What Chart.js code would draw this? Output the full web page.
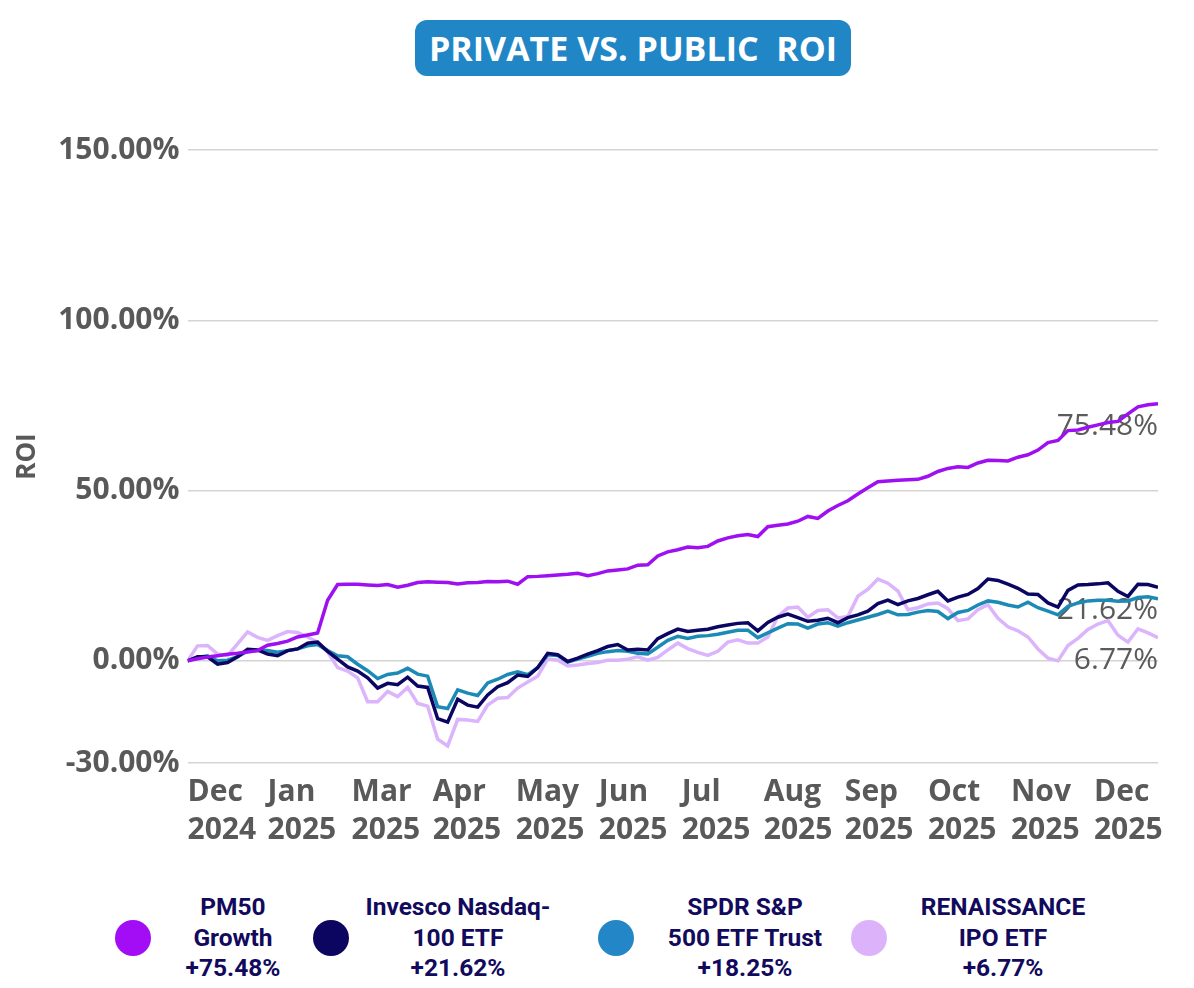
<!DOCTYPE html>
<html>
<head>
<meta charset="utf-8">
<title>Private vs. Public ROI</title>
<script src="https://cdn.jsdelivr.net/npm/chart.js@4.4.1/dist/chart.umd.min.js"></script>
<style>
  html, body { margin: 0; padding: 0; background: #fff; }
  body { width: 1194px; height: 988px; position: relative; overflow: hidden; font-family: "Open Sans", sans-serif; }
  #title {
    position: absolute; left: 415px; top: 20px; width: 436px; height: 56px;
    background: #2186c6; border-radius: 12px; color: #fff;
    font-weight: 700; font-size: 34px; line-height: 56px; text-align: center; white-space: pre;
  }
  #wrap { position: absolute; left: 0; top: 100px; width: 1194px; height: 760px; }
  .dot { position: absolute; top: 920px; width: 36px; height: 36px; border-radius: 50%; }
  .txt {
    position: absolute; top: 892px; width: 260px; text-align: center;
    font-family: Roboto, sans-serif; font-weight: 700; font-size: 24.5px; line-height: 30.5px; color: #120a5c;
  }
  .d0 { left: 115px; } .t0 { left: 103px; }
  .d1 { left: 313px; } .t1 { left: 328px; }
  .d2 { left: 598px; } .t2 { left: 615px; }
  .d3 { left: 851px; } .t3 { left: 873px; }
</style>
</head>
<body>
<div id="title">PRIVATE VS. PUBLIC  ROI</div>
<div id="wrap"><canvas id="roiChart"></canvas></div>
<div id="legend"></div>

<script>
// series names (legend lines) and colours
const seriesNames = [
    ['PM50', 'Growth'],
    ['Invesco Nasdaq-', '100 ETF'],
    ['SPDR S&P', '500 ETF Trust'],
    ['RENAISSANCE', 'IPO ETF']
];
const finalReturns = [75.48, 21.62, 18.25, 6.77];

// x axis tick labels and where they sit (in data point index units)
const xTickLabels = [
    ['Dec', '2024'], ['Jan', '2025'], ['Mar', '2025'], ['Apr', '2025'],
    ['May', '2025'], ['Jun', '2025'], ['Jul', '2025'], ['Aug', '2025'],
    ['Sep', '2025'], ['Oct', '2025'], ['Nov', '2025'], ['Dec', '2025']
];
const xTickPos = [0, 8, 16.4, 24.5, 32.8, 41.1, 49.4, 57.6, 65.7, 74, 82.3, 90.6];
const yTicks = [-30, 0, 50, 100, 150];

// ROI (%)
const pm50 = [
    0, 0.6, 1.1, 1.5, 1.9, 2.2, 2.6, 3.0, 4.6, 5.1,
    5.8, 7.0, 7.6, 8.2, 17.8, 22.4, 22.5, 22.5, 22.3, 22.1,
    22.4, 21.6, 22.2, 23.0, 23.2, 23.1, 23.0, 22.6, 22.9, 23.0,
    23.3, 23.2, 23.4, 22.5, 24.7, 24.8, 25.0, 25.2, 25.4, 25.7,
    25.0, 25.6, 26.4, 26.7, 27.0, 28.1, 28.2, 30.8, 32.0, 32.6,
    33.4, 33.2, 33.6, 35.2, 36.1, 36.7, 37.1, 36.5, 39.4, 39.8,
    40.2, 41.0, 42.4, 41.8, 44.0, 45.6, 47.0, 49.0, 50.8, 52.6,
    52.8, 53.0, 53.2, 53.3, 54.2, 55.6, 56.5, 57.0, 56.8, 58.1,
    58.9, 58.8, 58.7, 59.8, 60.5, 61.9, 64.1, 64.7, 67.6, 67.8,
    68.6, 69.3, 70.0, 70.3, 72.5, 74.6, 75.2, 75.48
];
const invesco = [
    0, 1.2, 1.2, -1.0, -0.5, 1.2, 3.4, 3.2, 2.0, 1.5,
    3.0, 3.5, 5.2, 5.5, 2.8, 0.5, -1.8, -3.0, -5.0, -8.0,
    -6.6, -7.0, -4.8, -7.4, -7.8, -17.0, -18.0, -11.3, -13.0, -13.6,
    -10.0, -7.6, -6.4, -4.2, -4.6, -2.0, 2.2, 1.8, -0.2, 0.8,
    2.0, 3.0, 4.2, 4.8, 3.2, 3.4, 3.2, 6.5, 8.0, 9.3,
    8.6, 9.0, 9.3, 10.0, 10.5, 11.0, 11.2, 8.8, 11.3, 12.8,
    13.7, 12.7, 11.6, 11.9, 12.5, 11.2, 12.7, 13.5, 14.6, 16.8,
    17.8, 16.5, 17.6, 18.3, 19.4, 20.4, 17.6, 18.7, 19.5, 21.2,
    24.0, 23.6, 22.5, 21.3, 19.6, 19.5, 17.0, 15.8, 20.7, 22.3,
    22.4, 22.6, 22.9, 20.4, 18.9, 22.5, 22.4, 21.62
];
const spdr = [
    0, 1.0, 1.5, 0.0, 0.2, 1.2, 2.8, 3.0, 3.0, 2.5,
    3.0, 3.5, 4.4, 4.8, 3.0, 1.5, 1.2, -1.0, -2.9, -5.2,
    -4.0, -3.6, -2.2, -3.9, -4.5, -13.5, -14.0, -8.5, -9.5, -10.2,
    -6.5, -5.4, -4.0, -3.2, -4.1, -2.0, 1.8, 1.6, -0.4, 0.5,
    1.3, 2.2, 2.7, 3.0, 2.8, 2.2, 2.0, 4.0, 6.0, 7.2,
    6.6, 7.2, 7.4, 7.8, 8.4, 9.0, 9.0, 6.8, 8.2, 9.6,
    10.9, 10.8, 9.6, 10.8, 11.2, 10.2, 11.2, 12.0, 12.8, 13.6,
    14.6, 13.5, 13.6, 14.3, 14.8, 14.5, 12.4, 14.2, 14.8, 16.4,
    17.6, 17.2, 16.4, 15.8, 17.2, 15.6, 14.6, 13.5, 16.0, 17.0,
    17.6, 17.8, 17.8, 17.5, 17.6, 18.6, 18.8, 18.25
];
const renaissance = [
    0, 4.4, 4.5, 2.0, 1.5, 5.0, 8.5, 6.9, 6.0, 7.4,
    8.6, 8.3, 7.0, 5.5, 2.6, -2.0, -3.0, -5.0, -12.0, -12.0,
    -9.0, -10.5, -7.8, -12.5, -13.3, -23.0, -25.0, -17.2, -17.4, -17.8,
    -13.0, -11.0, -10.8, -8.0, -6.2, -4.5, 0.6, 0.2, -1.5, -1.2,
    -0.8, -0.5, 0.2, 0.2, 0.5, 1.2, 0.2, 1.0, 3.2, 5.2,
    3.6, 2.5, 1.6, 2.8, 5.5, 6.2, 5.2, 5.2, 7.0, 13.0,
    15.5, 15.8, 12.8, 14.8, 15.0, 12.6, 13.0, 19.0, 21.0, 24.0,
    22.8, 20.5, 15.0, 15.6, 16.7, 17.0, 15.3, 11.8, 12.3, 15.0,
    16.5, 12.5, 10.0, 8.8, 7.0, 3.5, 0.8, 0.0, 4.5, 6.6,
    9.2, 10.8, 11.8, 7.5, 5.5, 9.4, 8.2, 6.77
];

const lineColors = ['#9e0ff2', '#0b0662', '#1b8bb6', '#dbb4fc'];
const dotColors = ['#a20df5', '#0d0660', '#2386c6', '#dcb3fb'];
const showEndLabel = [true, true, false, true];

const toPoints = arr => arr.map((v, i) => ({ x: i, y: v }));
const pct = v => v.toFixed(2) + '%';

// legend built as html so the three centred lines fit beside each dot
const legend = document.getElementById('legend');
seriesNames.forEach((lines, i) => {
    const dot = document.createElement('div');
    dot.className = 'dot d' + i;
    dot.style.background = dotColors[i];
    const txt = document.createElement('div');
    txt.className = 'txt t' + i;
    txt.innerHTML = lines.concat('+' + pct(finalReturns[i])).map(s => s.replace('&', '&amp;')).join('<br>');
    legend.appendChild(dot);
    legend.appendChild(txt);
});

// value labels at the right end of the lines, drawn under the lines
const endLabels = {
    id: 'endLabels',
    beforeDatasetsDraw(chart) {
        const { ctx, chartArea } = chart;
        ctx.save();
        ctx.font = '400 30px "Open Sans"';
        ctx.fillStyle = '#5b5b5b';
        ctx.textAlign = 'right';
        ctx.textBaseline = 'top';
        chart.data.datasets.forEach((ds, i) => {
            if (!showEndLabel[i]) return;
            const pts = chart.getDatasetMeta(i).data;
            const last = pts[pts.length - 1];
            ctx.fillText(pct(finalReturns[i]), chartArea.right, last.y + 8);
        });
        ctx.restore();
    }
};

const series = [pm50, invesco, spdr, renaissance];
const axisFont = { family: 'Open Sans', weight: 'bold', size: 30, lineHeight: 1.25 };

const ctx = document.getElementById('roiChart').getContext('2d');
new Chart(ctx, {
    type: 'line',
    data: {
        datasets: series.map((arr, i) => ({
            label: seriesNames[i].join(' '),
            data: toPoints(arr),
            borderColor: lineColors[i],
            backgroundColor: lineColors[i],
            borderWidth: 3.5,
            pointRadius: 0,
            tension: 0,
            fill: false
        }))
    },
    options: {
        responsive: true,
        maintainAspectRatio: false,
        animation: false,
        layout: { padding: { top: 50, right: 36, bottom: 0, left: 8 } },
        plugins: {
            legend: { display: false },
            tooltip: { enabled: false }
        },
        scales: {
            x: {
                type: 'linear',
                min: 0,
                max: pm50.length - 1,
                afterBuildTicks: s => { s.ticks = xTickPos.map(v => ({ value: v })); },
                grid: { display: false, drawTicks: false },
                border: { display: false },
                ticks: {
                    align: 'start',
                    padding: 11,
                    autoSkip: false,
                    maxRotation: 0,
                    color: '#595959',
                    font: axisFont,
                    callback: (v, i) => xTickLabels[i]
                }
            },
            y: {
                min: -30,
                max: 150,
                afterBuildTicks: s => { s.ticks = yTicks.map(v => ({ value: v })); },
                grid: { color: '#d4d4d4', lineWidth: 1.5, drawTicks: false },
                border: { display: false },
                ticks: {
                    padding: 8,
                    color: '#595959',
                    font: axisFont,
                    callback: v => pct(v)
                },
                title: {
                    display: true,
                    text: 'ROI',
                    color: '#595959',
                    font: { family: 'Open Sans', weight: 'bold', size: 26 },
                    padding: { top: 4, bottom: 7 }
                }
            }
        }
    },
    plugins: [endLabels]
});
</script>
</body>
</html>
